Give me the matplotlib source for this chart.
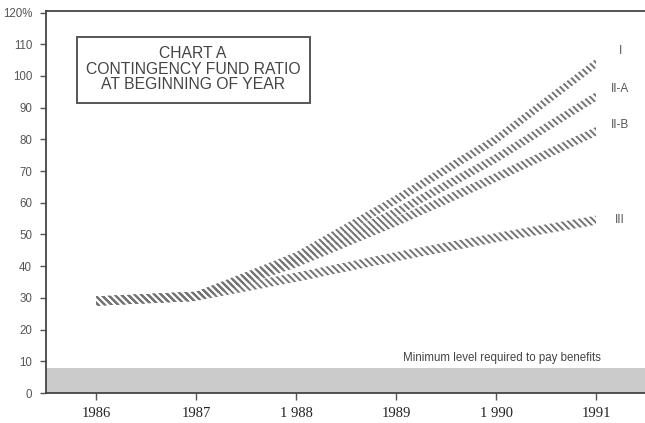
import numpy as np
import matplotlib
matplotlib.use("Agg")
import matplotlib.pyplot as plt
from matplotlib.patches import Rectangle

plt.rcParams['font.family'] = ['Liberation Sans', 'DejaVu Sans']
plt.rcParams['hatch.linewidth'] = 1.4

years = [1986, 1987, 1988, 1989, 1990, 1991]
year_labels = ['1986', '1987', '1 988', '1989', '1 990', '1991']
series_names = ['I', 'II-A', 'II-B', 'III']
ratio_I = [29, 30.5, 43, 61, 80, 104]
ratio_IIA = [29, 30.5, 42, 57, 74, 93.5]
ratio_IIB = [29, 30.5, 41, 54, 68, 82.5]
ratio_III = [29, 30.5, 36.5, 43, 49, 54.5]
min_level = 8
yticks = [0, 10, 20, 30, 40, 50, 60, 70, 80, 90, 100, 110, 120]
ytick_labels = [str(v) for v in yticks[:-1]] + ['120%']

fig = plt.figure(figsize=(6.45, 4.23), dpi=100)
ax = fig.add_axes([46 / 645, 30 / 423, 599 / 645, 382 / 423])

ax.axhspan(0, min_level, color='#cbcbcb', lw=0, zorder=1)
ax.text(1991.05, min_level + 3, 'Minimum level required to pay benefits',
        ha='right', va='center', fontsize=8.3, color='#444444')

half = 1.45
for ys in [ratio_III, ratio_IIB, ratio_IIA, ratio_I]:
    y = np.array(ys, dtype=float)
    ax.fill_between(years, y - half, y + half, facecolor='none',
                    edgecolor='#737373', hatch='\\\\\\\\\\', lw=0, zorder=3)

label_y = [108, 96, 84.5, 54.5]
for name, ly in zip(series_names, label_y):
    ax.text(1991.24, ly, name, ha='center', va='center', fontsize=8.5,
            color='#555555')

# title box
ax.add_patch(Rectangle((31 / 599, (393 - 103) / 382), 233 / 599, 66 / 382,
                       transform=ax.transAxes, fill=False, ec='#555555',
                       lw=1.4, zorder=4))
ax.text(147 / 599, (393 - 69) / 382,
        'CHART A\nCONTINGENCY FUND RATIO\nAT BEGINNING OF YEAR',
        transform=ax.transAxes, ha='center', va='center', fontsize=11.3,
        color='#444444', linespacing=1.05)

ax.set_xlim(1985.5, 1991.49)
ax.set_ylim(0, 120.5)
ax.set_yticks(yticks)
ax.set_yticklabels(ytick_labels, fontsize=8.3, color='#555555')
ax.set_xticks(years)
ax.set_xticklabels(year_labels, family='Liberation Serif', fontsize=10.5,
                   color='#222222')
ax.tick_params(axis='y', length=4, width=1, color='#555555', pad=6)
ax.tick_params(axis='x', length=5, width=1, color='#555555', pad=5)

ax.spines['right'].set_visible(False)
for s in ['left', 'bottom', 'top']:
    ax.spines[s].set_color('#444444')
    ax.spines[s].set_linewidth(1.3)

fig.savefig('out.png', dpi=100)
